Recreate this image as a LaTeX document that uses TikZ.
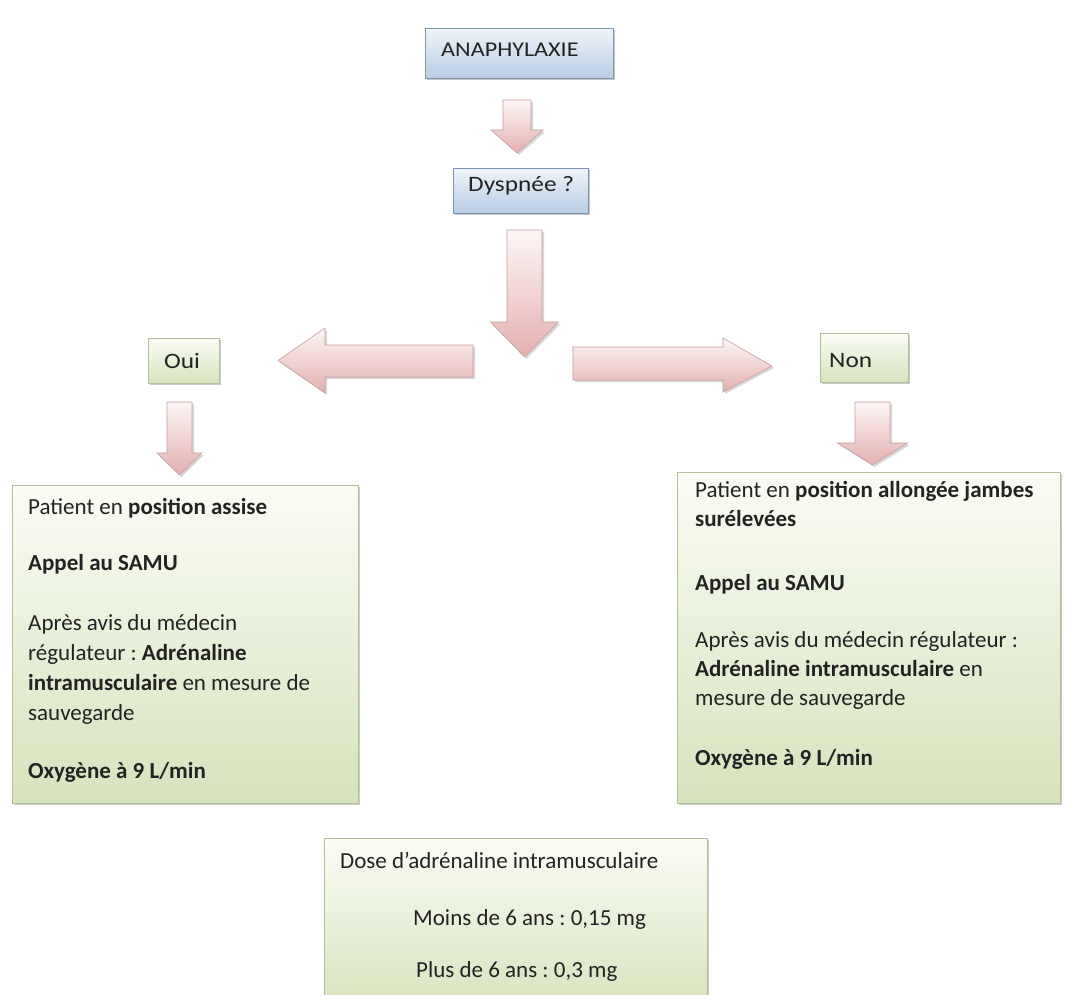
\documentclass[tikz,border=0pt]{standalone}
\usepackage{fontspec}
\setmainfont{Carlito}
\newfontfamily\labelfont[FakeStretch=1.15]{Carlito}
\frenchspacing
\usetikzlibrary{shadows}
\definecolor{bluetop}{RGB}{240,244,250}
\definecolor{bluebot}{RGB}{184,204,228}
\definecolor{blueedge}{RGB}{125,148,180}
\definecolor{greentop}{RGB}{250,252,245}
\definecolor{greenbot}{RGB}{214,227,188}
\definecolor{greenedge}{RGB}{178,192,150}
\definecolor{pinktop}{RGB}{253,246,246}
\definecolor{pinkbot}{RGB}{228,176,176}
\definecolor{pinkedge}{RGB}{196,158,158}
\definecolor{txt}{RGB}{35,35,35}
\tikzset{
  bluebox/.style={draw=blueedge, line width=0.8pt, top color=bluetop, bottom color=bluebot,
    drop shadow={shadow xshift=1.5pt, shadow yshift=-2pt, opacity=.45},
    anchor=north west, inner sep=0pt},
  greenbox/.style={draw=greenedge, line width=0.8pt, top color=greentop, bottom color=greenbot,
    drop shadow={shadow xshift=2pt, shadow yshift=-2pt, opacity=.4},
    anchor=north west, inner sep=0pt},
  blockarrow/.style={draw=pinkedge, line width=0.6pt, top color=pinktop, bottom color=pinkbot,
    drop shadow={shadow xshift=2pt, shadow yshift=-2pt, opacity=.3}},
  lbl/.style={anchor=base west, inner sep=0pt, text=txt},
  lblfont/.style={font=\labelfont\fontsize{21}{25}\selectfont},
  txtline/.style={anchor=base west, inner sep=0pt, text=txt, font=\fontsize{23}{28}\selectfont},
}
% vertical block arrow: cx, top, shaft half width, head start, head half width, tip
\newcommand\vblockarrow[6]{%
  \path[blockarrow] (#1-#3,#2) -- (#1+#3,#2) -- (#1+#3,#4) -- (#1+#5,#4) -- (#1,#6)
    -- (#1-#5,#4) -- (#1-#3,#4) -- cycle;}
\begin{document}
\begin{tikzpicture}[x=1pt,y=-1pt]
\useasboundingbox (0,0) rectangle (1065,994);
\clip (0,0) rectangle (1065,994);
\fill[white] (0,0) rectangle (1065,994);

% top boxes
\node[bluebox, minimum width=188pt, minimum height=50pt] (ana) at (425,28) {};
\node[lbl, lblfont] (anatxt) at (441,56) {ANAPHYLAXIE};
\vblockarrow{517}{100}{14}{130}{26}{153}
\node[bluebox, minimum width=135pt, minimum height=45pt] (dys) at (453,168) {};
\node[lbl, font=\labelfont\fontsize{22}{26}\selectfont] (dystxt) at (468,191) {Dyspnée ?};

% big down arrow
\vblockarrow{524.5}{230}{17.5}{322}{34}{357}

% left arrow
\path[blockarrow] (473,345) -- (325,345) -- (325,328) -- (278,360.5) -- (325,393)
  -- (325,377) -- (473,377) -- cycle;
% right arrow
\path[blockarrow] (573,347) -- (723,347) -- (723,338) -- (772,366) -- (723,392)
  -- (723,380) -- (573,380) -- cycle;

% Oui / Non
\node[greenbox, minimum width=71pt, minimum height=45pt] (oui) at (148,338) {};
\node[lbl, font=\labelfont\fontsize{22}{26}\selectfont] (ouitxt) at (164,368) {Oui};
\node[greenbox, minimum width=88pt, minimum height=49pt] (non) at (820,333) {};
\node[lbl, font=\labelfont\fontsize{22}{26}\selectfont] (nontxt) at (829,367) {Non};

\vblockarrow{179.5}{402}{12.5}{453}{22.5}{475}
\vblockarrow{872.5}{402}{17.5}{443}{35}{465}

% left big box
\node[greenbox, minimum width=346pt, minimum height=318pt] (lbox) at (12,485) {};
\node[txtline] (l1) at (28,514) {Patient en \textbf{position assise}};
\node[txtline] (l2) at (28,570) {\textbf{Appel au SAMU}};
\node[txtline] (l3) at (28,630) {Après avis du médecin};
\node[txtline] (l4) at (28,660) {régulateur : \textbf{Adrénaline}};
\node[txtline] (l5) at (28,690) {\textbf{intramusculaire} en mesure de};
\node[txtline] (l6) at (28,720) {sauvegarde};
\node[txtline] (l7) at (28,778) {\textbf{Oxygène à 9 L/min}};

% right big box
\node[greenbox, minimum width=383pt, minimum height=331pt] (rbox) at (677,472) {};
\node[txtline] (r1) at (695,497) {Patient en \textbf{position allongée jambes}};
\node[txtline] (r2) at (695,526) {\textbf{surélevées}};
\node[txtline] (r3) at (695,590) {\textbf{Appel au SAMU}};
\node[txtline] (r4) at (695,647) {Après avis du médecin régulateur :};
\node[txtline] (r5) at (695,676) {\textbf{Adrénaline intramusculaire} en};
\node[txtline] (r6) at (695,705) {mesure de sauvegarde};
\node[txtline] (r7) at (695,765) {\textbf{Oxygène à 9 L/min}};

% bottom box
\node[greenbox, minimum width=383pt, minimum height=175pt] (bbox) at (324,838) {};
\node[txtline] (b1) at (340,868) {Dose d’adrénaline intramusculaire};
\node[txtline] (b2) at (413,925) {Moins de 6 ans : 0,15 mg};
\node[txtline] (b3) at (416,977) {Plus de 6 ans : 0,3 mg};
\end{tikzpicture}
\end{document}
